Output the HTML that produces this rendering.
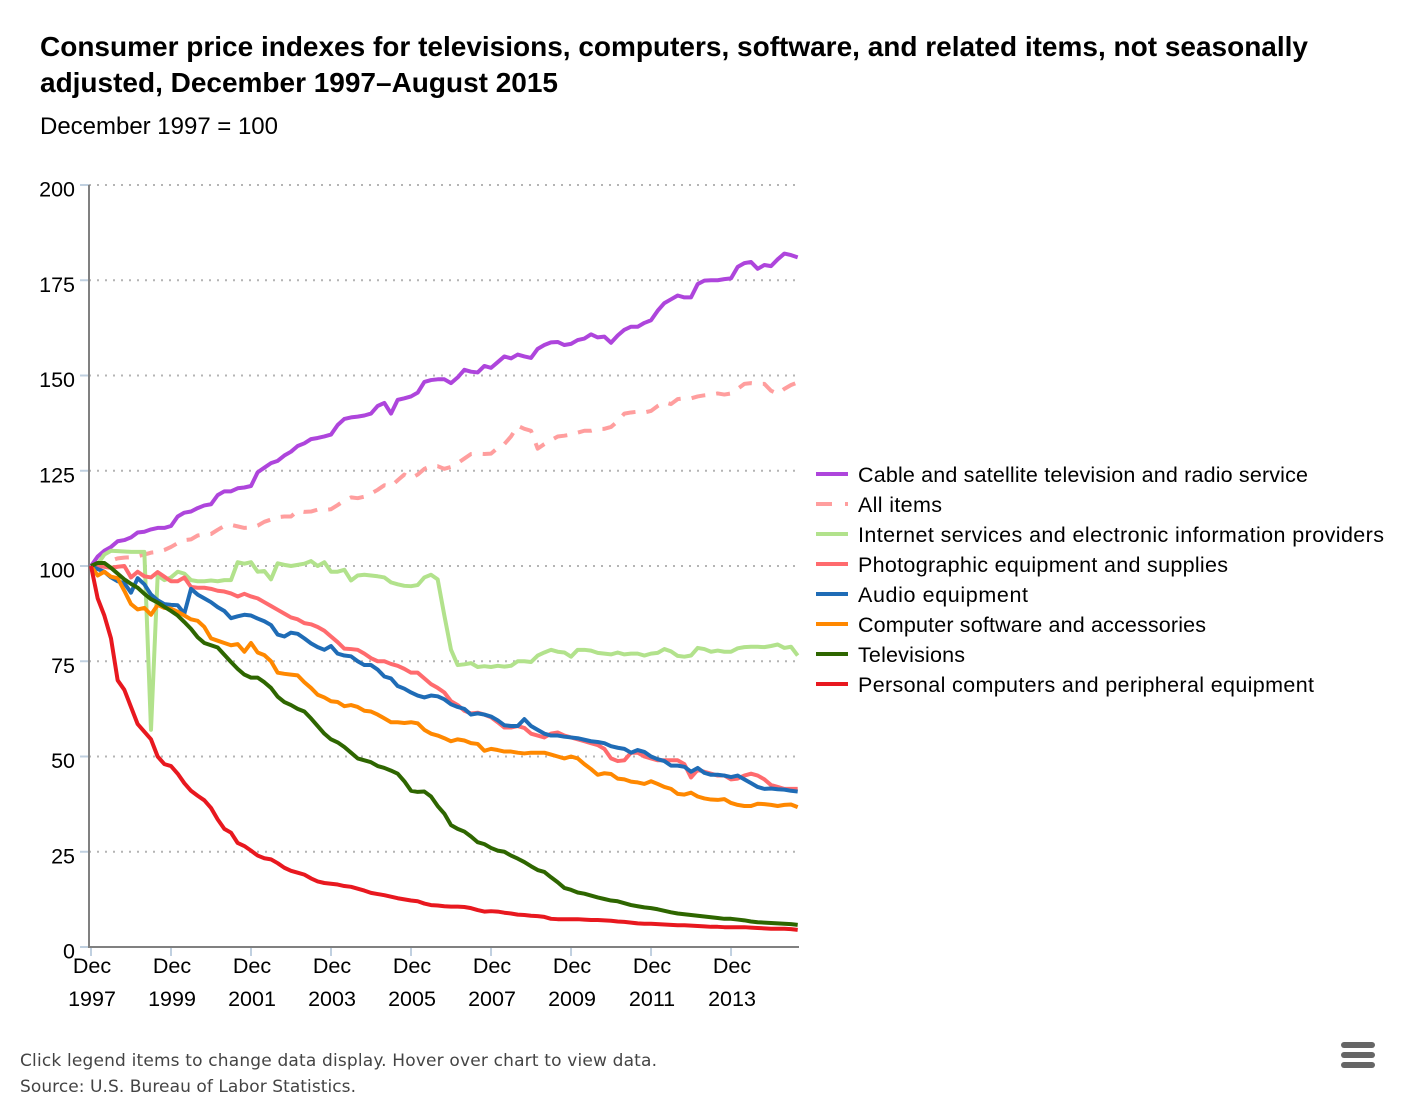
<!DOCTYPE html>
<html lang="en">
<head>
<meta charset="utf-8">
<title>Consumer price indexes chart</title>
<style>
  html, body { margin: 0; padding: 0; background: #fff; }
  svg { display: block; }
  text { font-family: "Liberation Sans", Arial, sans-serif; }
</style>
</head>
<body>
<svg id="chart" xmlns="http://www.w3.org/2000/svg" width="1412" height="1104" viewBox="0 0 1412 1104">
  <text x="40" y="56" font-size="28" font-weight="bold" fill="#000" textLength="1268" lengthAdjust="spacing">Consumer price indexes for televisions, computers, software, and related items, not seasonally</text>
  <text x="40" y="92" font-size="28" font-weight="bold" fill="#000" textLength="518" lengthAdjust="spacing">adjusted, December 1997–August 2015</text>
  <text x="40" y="134" font-size="24" fill="#000" textLength="238" lengthAdjust="spacing">December 1997 = 100</text>
  <g id="grid"></g>
  <g id="yticks"></g>
  <g id="xticks"></g>
  <line x1="89" y1="185" x2="89" y2="948" stroke="#808080" stroke-width="2"/>
  <line x1="88" y1="947" x2="799" y2="947" stroke="#808080" stroke-width="2"/>
  <g id="series"></g>
  <g id="legend"></g>
  <text x="20" y="1066" font-size="17" fill="#444" style='font-family:"DejaVu Sans",sans-serif' textLength="637" lengthAdjust="spacing">Click legend items to change data display. Hover over chart to view data.</text>
  <text x="20" y="1092" font-size="17" fill="#444" style='font-family:"DejaVu Sans",sans-serif' textLength="336" lengthAdjust="spacing">Source: U.S. Bureau of Labor Statistics.</text>
  <g fill="#666">
    <rect x="1341" y="1042" width="34" height="6" rx="3"/>
    <rect x="1341" y="1052" width="34" height="6" rx="3"/>
    <rect x="1341" y="1062" width="34" height="6" rx="3"/>
  </g>
</svg>
<script>
const monthStep = 2;
const yTickValues = [0, 25, 50, 75, 100, 125, 150, 175, 200];
const xTickYears = [1997, 1999, 2001, 2003, 2005, 2007, 2009, 2011, 2013];
const seriesNames = [
  "Cable and satellite television and radio service",
  "All items",
  "Internet services and electronic information providers",
  "Photographic equipment and supplies",
  "Audio equipment",
  "Computer software and accessories",
  "Televisions",
  "Personal computers and peripheral equipment"
];
const seriesColors = ["#AE45DC", "#FF9E9E", "#B2E28C", "#FF6B6E", "#1F6CB6", "#FF8800", "#2E6600", "#E8181F"];
const cableValues = [
  100,102.5,104,105,106.5,106.8,107.5,108.8,109,109.6,110,110,
  110.5,113,114,114.3,115.2,115.9,116.2,118.6,119.6,119.6,120.4,120.6,
  121,124.6,125.8,127,127.6,129,130,131.5,132.2,133.3,133.6,134,
  134.5,137,138.6,139,139.2,139.5,140,142,142.8,140,143.6,144,
  144.5,145.5,148.3,148.8,149,149,148,149.5,151.5,151,150.8,152.5,
  152,153.5,155,154.5,155.5,155,154.6,157,158,158.7,158.8,158,
  158.3,159.3,159.7,160.8,160,160.2,158.6,160.5,162,162.8,162.8,163.8,
  164.5,167,169,170,171,170.5,170.5,174,174.9,175,175,175.3,
  175.5,178.5,179.5,179.8,178,179,178.7,180.5,182,181.6,181
];
const allItemsValues = [
  100,100.3,100.8,101.4,102,102.2,102.3,102.6,103,103.5,103.7,104.2,
  105,106,106.8,107,108,108.3,108.4,109.5,110.5,110.8,110.4,110,
  110.1,110.6,111.6,112.2,112.8,113,113,114.5,114.2,114.3,114.8,114.7,
  114.9,116,117.2,118,117.8,118.2,119,120,121.2,120.9,122.5,124,
  123,124,125.5,126.2,126.2,125.5,126,127,128.2,129.4,129.5,129.4,
  129.5,131,132,134,136.8,136,135.5,130.8,132,133,134,134.2,
  134.5,135,135.5,135.5,136,136,136.5,138,140,140.3,140.5,140.3,
  140.7,142,143,142.5,143.8,144,144,144.5,144.8,145,145.3,145,
  145.3,146.5,147.8,148,147.8,147.8,146,145.2,146.5,147.5,148.2
];
const internetValues = [
  100,100.5,103,104,103.9,103.8,103.7,103.7,103.7,57,97.5,96.3,
  97,98.5,98,96.3,96,96,96.2,96,96.3,96.3,101,100.6,
  101,98.5,98.7,96.5,100.7,100.3,100,100.3,100.6,101.3,100,101,
  98.5,98.5,99,96.2,97.5,97.7,97.5,97.3,97,95.7,95.2,94.8,
  94.7,95,97,97.7,96.5,87,78,74,74.2,74.5,73.5,73.7,
  73.5,73.8,73.6,73.8,75,75,74.8,76.5,77.3,78,77.5,77.3,
  76.2,78,78,77.8,77.2,77,76.8,77.3,76.8,77,77,76.5,
  77,77.2,78.2,77.6,76.4,76.2,76.5,78.5,78.2,77.5,77.8,77.5,
  77.5,78.4,78.7,78.8,78.8,78.7,79,79.4,78.5,78.8,76.5
];
const photoValues = [
  100,100,99.8,99.5,99.8,100,97,98.5,97.3,97,98.4,97.2,
  96,96,97,94.5,94.3,94.3,94,93.5,93.3,92.8,92,92.7,
  92,91.5,90.5,89.5,88.5,87.5,86.5,86,85,84.7,84,83,
  81.5,80,78.3,78.2,78,77,75.8,75,75,74.3,73.8,73,
  72,72,70.5,69,68,66.8,64.5,63.5,62,61.3,61.5,61,
  60.3,59,57.6,57.6,58,57.5,56,55.5,55,56,56.3,55.5,
  55,54.5,54,53.5,53,52,49.5,48.8,49,51,51,50,
  49.5,49,49,49,49,48,44.5,46.5,46,45.5,45,45,
  44,44.2,45,45.5,45,44,42.5,42,41.5,41.5,41.5
];
const audioValues = [
  100,99.2,98.5,97,96,95.5,93,96.8,95.2,92.5,91,90,
  89.8,89.7,87.5,94,92.5,91.5,90.5,89.2,88.2,86.3,86.8,87.2,
  87,86.2,85.5,84.5,82,81.5,82.5,82.2,81,79.7,78.7,78,
  79,77,76.5,76.3,75,74,74,72.8,71,70.5,68.5,67.8,
  66.8,66,65.5,66,65.8,65,63.7,63,62.5,61,61.3,61,
  60.5,59.5,58.2,58,58,59.8,58,57,56,55.5,55.5,55.2,
  55,54.8,54.4,54,53.8,53.5,52.7,52.3,52,51,51.7,51.2,
  50,49.3,48.8,47.6,47.6,47.3,46,47,45.7,45.2,45.2,45,
  44.6,45,44,43,42,41.5,41.6,41.4,41.3,41,40.8
];
const softwareValues = [
  100,97.5,98.5,97.2,96.8,93.5,90,88.6,89,87.2,89.8,89,
  88.8,88,87,86,85.6,84,81,80.4,79.8,79.2,79.5,77.5,
  79.8,77.3,76.6,75,72,71.7,71.5,71.3,69.5,68,66.2,65.5,
  64.5,64.3,63.2,63.5,63,62,61.8,61,60,59,59,58.8,
  59,58.7,57,56,55.5,54.8,54,54.5,54.2,53.5,53.3,51.5,
  52,51.7,51.3,51.3,51,50.8,51,51,51,50.5,50,49.5,
  50,49.5,48,46.7,45.2,45.6,45.4,44.2,44,43.4,43.2,42.8,
  43.5,42.8,42,41.5,40.2,40,40.5,39.5,39,38.7,38.6,38.8,
  37.8,37.3,37,37,37.6,37.5,37.3,37,37.3,37.4,36.7
];
const televisionValues = [
  100,100.8,100.8,99.5,98,96.5,95.3,94.3,92.7,91.3,90.4,89.3,
  88.2,87,85.3,83.5,81.3,79.8,79.2,78.6,76.7,74.8,73,71.5,
  70.7,70.7,69.5,68,65.7,64.3,63.5,62.5,61.8,60,58,56,
  54.5,53.7,52.5,51,49.5,49,48.5,47.5,47,46.3,45.5,43.5,
  41,40.7,40.8,39.5,37,35,32,31,30.3,29,27.5,27,
  26,25.3,25,24,23.2,22.3,21.2,20.2,19.7,18.3,17,15.5,
  15,14.3,14,13.5,13,12.6,12.2,12,11.5,11,10.7,10.4,
  10.2,9.9,9.5,9.1,8.8,8.6,8.4,8.2,8,7.8,7.6,7.4,
  7.4,7.2,7,6.7,6.5,6.4,6.3,6.2,6.1,6,5.8
];
const computerValues = [
  100,91.5,87,81,70,67.5,63,58.5,56.5,54.5,50,48,
  47.5,45.5,43,41,39.7,38.5,36.5,33.5,31,30,27.3,26.5,
  25.3,24,23.3,23,22,20.8,20,19.5,19,18,17.2,16.8,
  16.6,16.4,16,15.8,15.3,14.8,14.2,13.9,13.6,13.2,12.8,12.5,
  12.2,12,11.4,11,10.9,10.7,10.6,10.6,10.5,10.2,9.7,9.3,
  9.4,9.3,9,8.8,8.5,8.4,8.2,8.1,7.9,7.4,7.3,7.3,
  7.3,7.3,7.2,7.1,7.1,7,6.9,6.7,6.6,6.4,6.2,6.1,
  6.1,6,5.9,5.8,5.7,5.7,5.6,5.5,5.4,5.3,5.3,5.2,
  5.2,5.2,5.2,5.1,5,4.9,4.8,4.8,4.8,4.7,4.5
];
const seriesValues = [cableValues, allItemsValues, internetValues, photoValues, audioValues, softwareValues, televisionValues, computerValues];
const legendWidths = [450, 84, 526, 370, 170, 348, 107, 456];

const NS = "http://www.w3.org/2000/svg";
const plot = { left: 91, width: 706.7, top: 185, height: 762, maxMonths: 212, maxValue: 200 };
function xScale(month) { return plot.left + month / plot.maxMonths * plot.width; }
function yScale(value) { return plot.top + plot.height * (1 - value / plot.maxValue); }
function make(tag, attrs, parent, text) {
  const el = document.createElementNS(NS, tag);
  for (const k in attrs) el.setAttribute(k, attrs[k]);
  if (text !== undefined) el.textContent = text;
  parent.appendChild(el);
  return el;
}

const gridG = document.getElementById("grid");
const yTickG = document.getElementById("yticks");
yTickValues.forEach(function (v) {
  const y = yScale(v);
  if (v > 0) {
    const gl = make("line", { x1: 89, x2: 798, y1: y, y2: y, stroke: "#b4b4b4", "stroke-width": 2, "stroke-dasharray": "2 6" }, gridG);
    
    
  }
  const t = make("line", { x1: 80, x2: 89, y1: y, y2: y, stroke: "#C0D0E0", "stroke-width": 2 }, yTickG);
  
  
  const lab = make("text", { x: 75, y: y + 11.5, "text-anchor": "end", "font-size": 21.5, fill: "#000" }, yTickG, String(v));
  
  
});

const xTickG = document.getElementById("xticks");
xTickYears.forEach(function (yr) {
  const x = xScale((yr - xTickYears[0]) * 12);
  const t = make("line", { x1: x, x2: x, y1: 947, y2: 956, stroke: "#C0D0E0", "stroke-width": 2 }, xTickG);
  
  
  const m = make("text", { x: x + 1, y: 973, "text-anchor": "middle", "font-size": 21.5, fill: "#000" }, xTickG, "Dec");
  
  
  const l = make("text", { x: x + 1, y: 1006, "text-anchor": "middle", "font-size": 21.5, fill: "#000" }, xTickG, String(yr));
  
  
});

const seriesG = document.getElementById("series");
seriesValues.forEach(function (vals, s) {
  const pts = vals.map(function (v, i) { return xScale(i * monthStep).toFixed(2) + "," + yScale(v).toFixed(2); }).join(" ");
  const attrs = { points: pts, fill: "none", stroke: seriesColors[s], "stroke-width": 4, "stroke-linejoin": "round" };
  if (s === 1) attrs["stroke-dasharray"] = "14 11";
  const line = make("polyline", attrs, seriesG);
  
  
});

const legendG = document.getElementById("legend");
seriesNames.forEach(function (name, s) {
  const y = 474 + s * 30;
  const entry = make("g", {}, legendG);
  
  
  const attrs = { x1: 816, x2: 848, y1: y, y2: y, stroke: seriesColors[s], "stroke-width": 4 };
  if (s === 1) attrs["stroke-dasharray"] = "16 13";
  const sw = make("line", attrs, entry);
  
  
  const label = make("text", { x: 858, y: y + 8, "font-size": 21.5, fill: "#000", textLength: legendWidths[s], lengthAdjust: "spacing" }, entry, name);
  
  
});
</script>
</body>
</html>
